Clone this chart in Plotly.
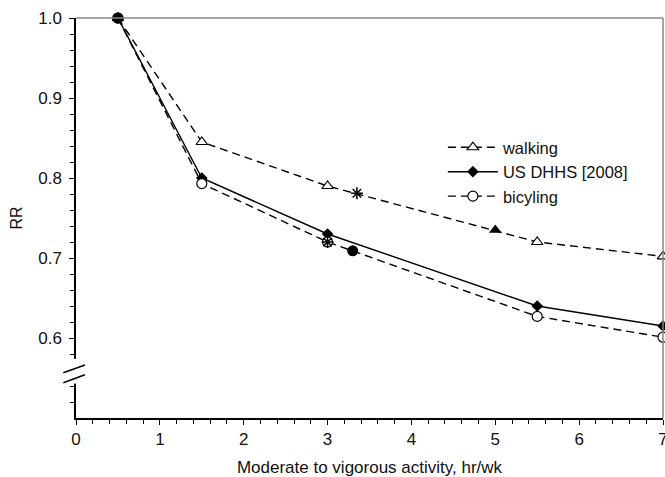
import plotly.graph_objects as go

# ---- data ----
hours = [0.5, 1.5, 3.0, 5.5, 7.0]
walking = [1.0, 0.845, 0.79, 0.72, 0.702]
dhhs = [1.0, 0.80, 0.73, 0.64, 0.615]
bicycling = [1.0, 0.793, 0.72, 0.627, 0.601]

star_x = [3.35, 3.0]
star_y = [0.781, 0.720]
filled_tri_x = [5.0]
filled_tri_y = [0.735]
filled_circ_x = [0.5, 3.3]
filled_circ_y = [1.0, 0.709]

x_major = [0, 1, 2, 3, 4, 5, 6, 7]
x_minor = [round(i * 0.2, 1) for i in range(36) if i % 5 != 0]
y_major = [0.6, 0.7, 0.8, 0.9, 1.0]
y_major_labels = ["0.6", "0.7", "0.8", "0.9", "1.0"]
y_minor = [0.52, 0.54, 0.58, 0.62, 0.64, 0.66, 0.68, 0.72, 0.74, 0.76, 0.78,
           0.82, 0.84, 0.86, 0.88, 0.92, 0.94, 0.96, 0.98]

FONT = "Liberation Sans, Arial, sans-serif"
DASH = "8px,5px"

fig = go.Figure()

fig.add_trace(go.Scatter(
    x=hours, y=walking, name="walking", mode="lines+markers",
    line=dict(color="black", width=1.4, dash=DASH),
    marker=dict(symbol="triangle-up", size=10, color="white",
                line=dict(color="black", width=1.2)),
    cliponaxis=False))
fig.add_trace(go.Scatter(
    x=hours, y=dhhs, name="US DHHS [2008]", mode="lines+markers",
    line=dict(color="black", width=1.4),
    marker=dict(symbol="diamond", size=9, color="black"),
    cliponaxis=False))
fig.add_trace(go.Scatter(
    x=hours, y=bicycling, name="bicyling", mode="lines+markers",
    line=dict(color="black", width=1.4, dash=DASH),
    marker=dict(symbol="circle", size=10, color="white",
                line=dict(color="black", width=1.2)),
    cliponaxis=False))

fig.add_trace(go.Scatter(
    x=star_x, y=star_y, mode="markers", showlegend=False,
    marker=dict(symbol="asterisk-open", size=10, color="black",
                line=dict(color="black", width=1.5)),
    cliponaxis=False))
fig.add_trace(go.Scatter(
    x=filled_tri_x, y=filled_tri_y, mode="markers", showlegend=False,
    marker=dict(symbol="triangle-up", size=11, color="black"),
    cliponaxis=False))
fig.add_trace(go.Scatter(
    x=filled_circ_x, y=filled_circ_y, mode="markers", showlegend=False,
    marker=dict(symbol="circle", size=11, color="black"),
    cliponaxis=False))

fig.update_layout(
    width=665, height=477,
    margin=dict(l=76, r=2, t=18, b=59, autoexpand=False),
    plot_bgcolor="white", paper_bgcolor="white",
    font=dict(family=FONT, size=16, color="#111"),
    showlegend=True,
    legend=dict(x=0.625, y=0.72, xanchor="left", yanchor="top",
                bgcolor="rgba(0,0,0,0)", font=dict(size=16.5), itemwidth=50),
    xaxis=dict(
        range=[0, 7], showgrid=False, zeroline=False, automargin=False,
        showline=True, linecolor="black", linewidth=1.5,
        tickvals=x_major, ticktext=[str(v) for v in x_major],
        ticklabeloverflow="allow", tickfont=dict(size=17),
        ticks="outside", ticklen=5, tickcolor="black", tickwidth=1,
        minor=dict(tickvals=x_minor, ticks="outside", ticklen=4,
                   tickcolor="black", tickwidth=1),
        title=dict(text="Moderate to vigorous activity, hr/wk",
                   font=dict(size=17), standoff=14),
    ),
    yaxis=dict(
        range=[0.5, 1.0], showgrid=False, zeroline=False, automargin=False,
        showline=True, linecolor="black", linewidth=1.5,
        tickvals=y_major, ticktext=y_major_labels,
        ticklabeloverflow="allow", tickfont=dict(size=17),
        ticklabelstandoff=4,
        ticks="outside", ticklen=5, tickcolor="black", tickwidth=1,
        minor=dict(tickvals=y_minor, ticks="outside", ticklen=4,
                   tickcolor="black", tickwidth=1),
        title=dict(text="RR", font=dict(size=16), standoff=12),
    ),
    xaxis2=dict(overlaying="x", matches="x", range=[0, 7], showgrid=False,
                zeroline=False, showline=False, tickvals=x_major,
                showticklabels=False, ticks="inside", ticklen=5,
                tickcolor="black", tickwidth=1),
    yaxis2=dict(overlaying="y", matches="y", range=[0.5, 1.0], showgrid=False,
                zeroline=False, showline=False, tickvals=y_major,
                showticklabels=False, ticks="inside", ticklen=5,
                tickcolor="black", tickwidth=1),
)

# frame (top and right) in gray
fig.add_shape(type="line", xref="paper", yref="paper", x0=0, x1=1, y0=1, y1=1,
              line=dict(color="#888", width=1.5))
fig.add_shape(type="line", xref="paper", yref="paper", x0=1, x1=1, y0=0, y1=1,
              line=dict(color="#888", width=1.5))
# axis break
fig.add_shape(type="rect", xref="paper", yref="y", x0=-0.012, x1=0.012,
              y0=0.543, y1=0.574, fillcolor="white", line=dict(width=0),
              layer="above")
fig.add_shape(type="line", xref="paper", yref="y", x0=-0.0216, x1=0.0153,
              y0=0.5566, y1=0.5663, line=dict(color="black", width=1.5))
fig.add_shape(type="line", xref="paper", yref="y", x0=-0.0216, x1=0.0153,
              y0=0.5441, y1=0.5541, line=dict(color="black", width=1.5))

fig.write_html(
    "out.html",
    config={"displayModeBar": False},
    post_script="document.body.style.margin='0';document.body.style.overflow='hidden';",
)
